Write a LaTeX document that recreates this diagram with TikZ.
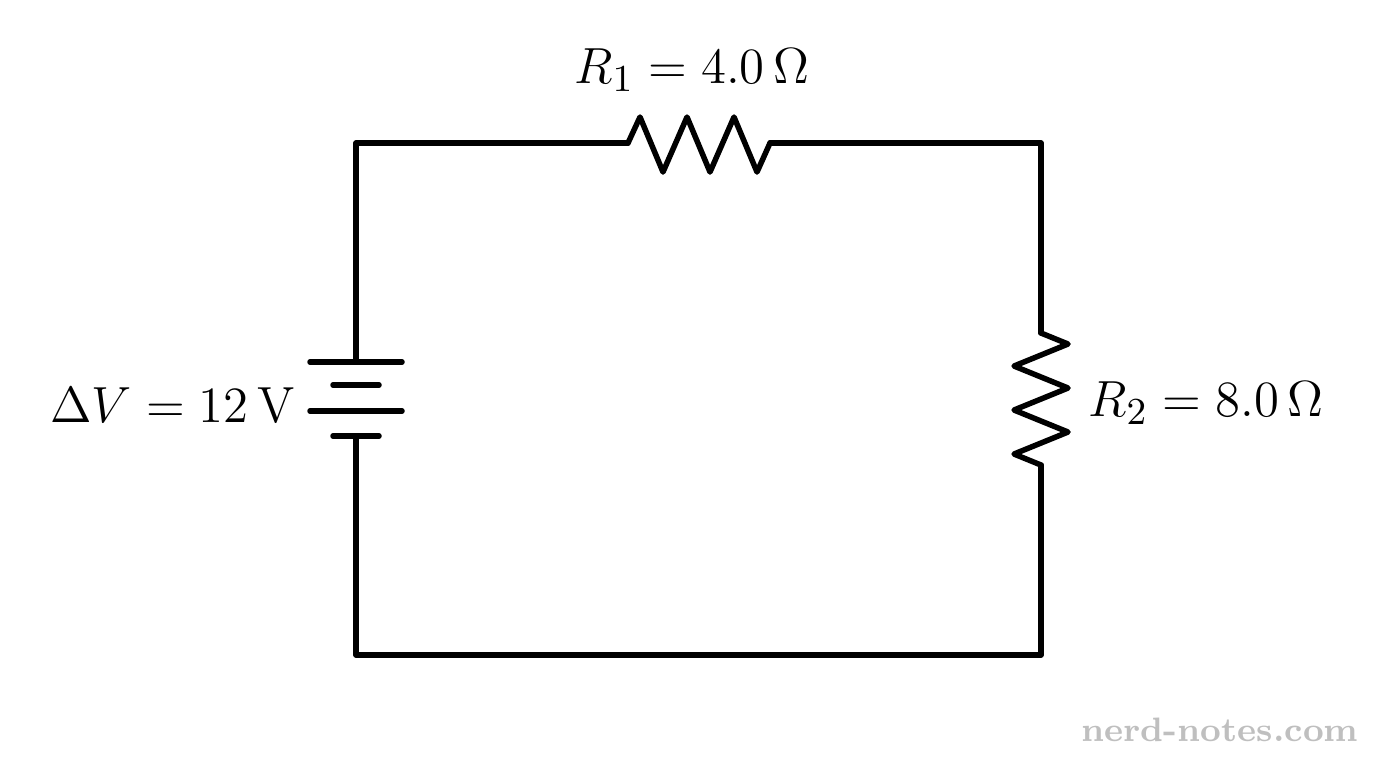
\documentclass[tikz,border=0pt]{standalone}
\begin{document}
\begin{tikzpicture}[x=0.0083cm,y=-0.0083cm, wire/.style={line width=1.3pt, line join=round, line cap=round}, lbl/.style={font=\fontsize{12.7}{15}\selectfont, inner sep=0pt}]
\useasboundingbox (0,0) rectangle (1376,768);
% corners
\coordinate (tl) at (356,143);
\coordinate (tr) at (1041,143);
\coordinate (br) at (1041,655);
\coordinate (bl) at (356,655);
\coordinate (r1a) at (628,143);
\coordinate (r1b) at (770,143);
\coordinate (r2a) at (1041,333);
\coordinate (r2b) at (1041,465);
\coordinate (bt) at (356,362);
\coordinate (bb) at (356,436);
% wires
\draw[wire] (bt) -- (tl) -- (r1a);
\draw[wire] (r1b) -- (tr) -- (r2a);
\draw[wire] (r2b) -- (br) -- (bl) -- (bb);
% resistors
\draw[wire] (r1a) -- (640,117) -- (663,172) -- (687,117) -- (710,172) -- (734,117) -- (757,172) -- (r1b);
\draw[wire] (r2a) -- (1068,344) -- (1014,366) -- (1068,388) -- (1014,410) -- (1068,432) -- (1014,454) -- (r2b);
% battery
\draw[wire] (310,362) -- (402,362);
\draw[wire] (333,385) -- (379,385);
\draw[wire] (310,411) -- (402,411);
\draw[wire] (333,436) -- (379,436);
% labels
\node[lbl] (lr1) at (692,70) {$R_1 = 4.0\,\Omega$};
\node[lbl, anchor=west] (lr2) at (1088,403) {$R_2 = 8.0\,\Omega$};
\node[lbl, anchor=east] (lv) at (296,405) {$\Delta V = 12\,\mathrm{V}$};
\node[lbl, text=black!25, font=\fontsize{8}{10}\selectfont\bfseries] (wm) at (1220,730) {nerd-notes.com};
\end{tikzpicture}
\end{document}
